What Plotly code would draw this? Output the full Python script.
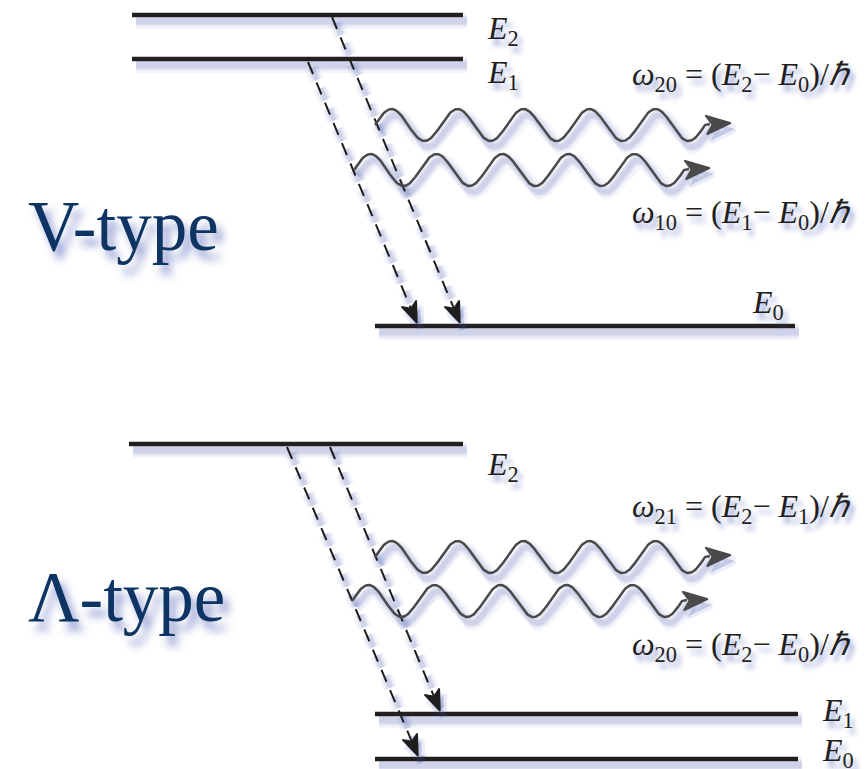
import numpy as np
import plotly.graph_objects as go

W, H = 868, 769

# ---------------- data ----------------
# energy levels (x-start, x-end, y) for both diagrams
v_level_labels = ["<i>E</i><sub>2</sub>", "<i>E</i><sub>1</sub>", "<i>E</i><sub>0</sub>"]
v_level_y = [15, 59, 326]
v_level_x0 = [132, 132, 375]
v_level_x1 = [463, 463, 795]
v_label_x = [485, 485, 750]
v_label_y = [30, 74, 304]

l_level_labels = ["<i>E</i><sub>2</sub>", "<i>E</i><sub>1</sub>", "<i>E</i><sub>0</sub>"]
l_level_y = [444, 714, 759]
l_level_x0 = [129, 375, 375]
l_level_x1 = [463, 798, 798]
l_label_x = [485, 820, 820]
l_label_y = [466, 712, 752]

# decay (dashed) arrows: start x, start y, tip x, tip y
v_decay_x0 = [332, 308]
v_decay_y0 = [17, 62]
v_decay_x1 = [460, 417]
v_decay_y1 = [323, 323]

l_decay_x0 = [287, 330]
l_decay_y0 = [447, 447]
l_decay_x1 = [418, 440]
l_decay_y1 = [756, 711]

# emitted photons: wave start x, centre y
v_wave_x0 = [375, 354]
v_wave_y = [125, 170]
l_wave_x0 = [375, 352]
l_wave_y = [557, 601]

# formulas
v_formula_text = ["<i>ω</i><sub>20</sub> = (<i>E</i><sub>2</sub>− <i>E</i><sub>0</sub>)/<i>ℏ</i>",
                  "<i>ω</i><sub>10</sub> = (<i>E</i><sub>1</sub>− <i>E</i><sub>0</sub>)/<i>ℏ</i>"]
v_formula_y = [76, 214]
l_formula_text = ["<i>ω</i><sub>21</sub> = (<i>E</i><sub>2</sub>− <i>E</i><sub>1</sub>)/<i>ℏ</i>",
                  "<i>ω</i><sub>20</sub> = (<i>E</i><sub>2</sub>− <i>E</i><sub>0</sub>)/<i>ℏ</i>"]
l_formula_y = [508, 646]

titles = ["V-type", "Λ-type"]
title_y = [226, 597]

# ---------------- style ----------------
LEVEL_COLOR = "#231f20"
DASH_COLOR = "#1e1e1e"
WAVE_COLOR = "#4a4a4a"
NAVY = "#0e3463"
SHADOW_RGB = "60,80,175"
SERIF = "Liberation Serif"

WAVE_AMP = 16
WAVE_PERIOD = 66
WAVE_CYCLES = 5

fig = go.Figure()


def add_shadow(xs, ys, width, dash="solid", dx=4, dy=6):
    xs = np.asarray(xs, float) + dx
    ys = np.asarray(ys, float) + dy
    for extra, alpha in [(12, 0.06), (7, 0.09), (3, 0.12)]:
        fig.add_trace(go.Scatter(x=xs, y=ys, mode="lines", hoverinfo="skip",
                                 line=dict(color=f"rgba({SHADOW_RGB},{alpha})",
                                           width=width + extra, dash=dash)))


def add_line(xs, ys, color, width, dash="solid"):
    fig.add_trace(go.Scatter(x=xs, y=ys, mode="lines", hoverinfo="skip",
                             line=dict(color=color, width=width, dash=dash)))


def head_poly(tip, u, length, wid, notch=0.75):
    u = np.asarray(u, float)
    u = u / np.hypot(*u)
    n = np.array([-u[1], u[0]])
    t = np.asarray(tip, float)
    back = t - length * u
    p1 = back + n * wid / 2
    p2 = t - notch * length * u
    p3 = back - n * wid / 2
    pts = [t, p1, p2, p3, t]
    return [p[0] for p in pts], [p[1] for p in pts]


def add_head(tip, u, length, wid, color, shadow=True):
    xs, ys = head_poly(tip, u, length, wid)
    if shadow:
        fig.add_trace(go.Scatter(x=np.array(xs) + 4, y=np.array(ys) + 6, mode="lines",
                                 fill="toself", hoverinfo="skip",
                                 fillcolor=f"rgba({SHADOW_RGB},0.22)",
                                 line=dict(color=f"rgba({SHADOW_RGB},0.10)", width=7)))
    fig.add_trace(go.Scatter(x=xs, y=ys, mode="lines", fill="toself", hoverinfo="skip",
                             fillcolor=color, line=dict(color=color, width=1.5)))


def draw_diagram(lx0, lx1, ly, dx0, dy0, dx1, dy1, wx0, wy):
    # shadows first
    for a, b, y in zip(lx0, lx1, ly):
        add_shadow([a, b], [y, y], 4)
    for a, b, c, d in zip(dx0, dy0, dx1, dy1):
        add_shadow([a, c], [b, d], 2, dash="13px,9px")
    waves = []
    for x0, yc in zip(wx0, wy):
        xs = np.linspace(x0, x0 + WAVE_PERIOD * WAVE_CYCLES, 400)
        ys = yc - WAVE_AMP * np.sin(2 * np.pi * (xs - x0) / WAVE_PERIOD)
        xs = np.append(xs, xs[-1] + 5)
        ys = np.append(ys, yc - 1)
        waves.append((xs, ys, xs[-1], yc))
        add_shadow(xs, ys, 2.5)
    # levels
    for a, b, y in zip(lx0, lx1, ly):
        add_line([a, b], [y, y], LEVEL_COLOR, 4.5)
    # decays
    for a, b, c, d in zip(dx0, dy0, dx1, dy1):
        u = (c - a, d - b)
        L = np.hypot(*u)
        ex = c - (c - a) / L * 12
        ey = d - (d - b) / L * 12
        add_line([a, ex], [b, ey], DASH_COLOR, 2, dash="13px,9px")
        add_head((c, d), u, 21, 16, DASH_COLOR)
    # waves
    for xs, ys, xe, yc in waves:
        add_line(xs, ys, WAVE_COLOR, 2.5)
        add_head((xe + 21, yc - 2), (1, -0.08), 25, 19, WAVE_COLOR)


draw_diagram(v_level_x0, v_level_x1, v_level_y, v_decay_x0, v_decay_y0,
             v_decay_x1, v_decay_y1, v_wave_x0, v_wave_y)
draw_diagram(l_level_x0, l_level_x1, l_level_y, l_decay_x0, l_decay_y0,
             l_decay_x1, l_decay_y1, l_wave_x0, l_wave_y)

TXT_SHADOW = f"4px 6px 5px rgba({SHADOW_RGB},0.55)"
annotations = []
for labels, xs, ys in [(v_level_labels, v_label_x, v_label_y),
                       (l_level_labels, l_label_x, l_label_y)]:
    for t, x, y in zip(labels, xs, ys):
        annotations.append(dict(x=x, y=y, text=t, showarrow=False, xanchor="left",
                                yanchor="middle",
                                font=dict(family=SERIF, size=32, color="#231f20",
                                          shadow=TXT_SHADOW)))
for texts, ys in [(v_formula_text, v_formula_y), (l_formula_text, l_formula_y)]:
    for t, y in zip(texts, ys):
        annotations.append(dict(x=853, y=y, text=t, showarrow=False, xanchor="right",
                                yanchor="middle",
                                font=dict(family=SERIF, size=32, color="#231f20",
                                          shadow=TXT_SHADOW)))
for t, y in zip(titles, title_y):
    annotations.append(dict(x=26, y=y, text=t, showarrow=False, xanchor="left",
                            yanchor="middle",
                            font=dict(family=SERIF, size=71, color=NAVY,
                                      shadow=f"6px 9px 8px rgba({SHADOW_RGB},0.6)")))

fig.update_layout(
    width=W, height=H,
    margin=dict(l=0, r=0, t=0, b=0),
    paper_bgcolor="white", plot_bgcolor="white",
    showlegend=False,
    xaxis=dict(range=[0, W], visible=False, fixedrange=True),
    yaxis=dict(range=[H, 0], visible=False, fixedrange=True),
    annotations=annotations,
)
fig.write_html("out.html",
               config={"displayModeBar": False},
               post_script="document.body.style.margin='0px';"
                           "document.body.style.overflow='hidden';")
